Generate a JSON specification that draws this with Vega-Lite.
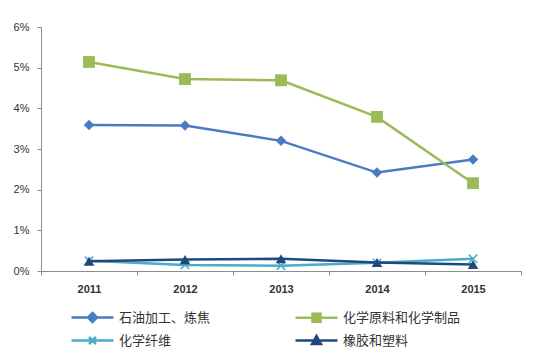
{
  "$schema": "https://vega.github.io/schema/vega-lite/v6.json",
  "width": 480,
  "height": 244,
  "autosize": {"type": "none"},
  "padding": {"left": 41, "top": 27, "right": 22, "bottom": 93},
  "background": "white",
  "config": {"view": {"stroke": null}, "font": "Noto Sans CJK SC"},
  "data": {"values": [
    {"year": "2011", "series": "石油加工、炼焦", "v": 0.0359},
    {"year": "2012", "series": "石油加工、炼焦", "v": 0.0358},
    {"year": "2013", "series": "石油加工、炼焦", "v": 0.0320},
    {"year": "2014", "series": "石油加工、炼焦", "v": 0.0242},
    {"year": "2015", "series": "石油加工、炼焦", "v": 0.0274},
    {"year": "2011", "series": "化学原料和化学制品", "v": 0.0514},
    {"year": "2012", "series": "化学原料和化学制品", "v": 0.0472},
    {"year": "2013", "series": "化学原料和化学制品", "v": 0.0469},
    {"year": "2014", "series": "化学原料和化学制品", "v": 0.0379},
    {"year": "2015", "series": "化学原料和化学制品", "v": 0.0216},
    {"year": "2011", "series": "化学纤维", "v": 0.0025},
    {"year": "2012", "series": "化学纤维", "v": 0.0015},
    {"year": "2013", "series": "化学纤维", "v": 0.0013},
    {"year": "2014", "series": "化学纤维", "v": 0.0020},
    {"year": "2015", "series": "化学纤维", "v": 0.0030},
    {"year": "2011", "series": "橡胶和塑料", "v": 0.0024},
    {"year": "2012", "series": "橡胶和塑料", "v": 0.0028},
    {"year": "2013", "series": "橡胶和塑料", "v": 0.0030},
    {"year": "2014", "series": "橡胶和塑料", "v": 0.0021},
    {"year": "2015", "series": "橡胶和塑料", "v": 0.0016}
  ]},
  "encoding": {
    "x": {
      "field": "year", "type": "ordinal",
      "scale": {"type": "band", "paddingInner": 0, "paddingOuter": 0},
      "axis": {"title": null, "labelAngle": 0, "tickBand": "extent", "domainColor": "#8c8c8c", "tickColor": "#8c8c8c", "tickSize": 4, "labelPadding": 8, "labelFontSize": 11, "labelFontWeight": "bold", "labelColor": "#333333", "labelFont": "Liberation Sans"}
    },
    "y": {
      "field": "v", "type": "quantitative",
      "scale": {"domain": [0, 0.06], "nice": false},
      "axis": {"title": null, "format": ".0%", "values": [0, 0.01, 0.02, 0.03, 0.04, 0.05, 0.06], "grid": false, "domainColor": "#8c8c8c", "tickColor": "#8c8c8c", "tickSize": 4, "labelPadding": 8, "labelFontSize": 11, "labelColor": "#333333", "labelFont": "Liberation Sans"}
    },
    "color": {
      "field": "series", "type": "nominal",
      "scale": {"domain": ["石油加工、炼焦", "化学原料和化学制品", "化学纤维", "橡胶和塑料"], "range": ["#4a7cc3", "#9bbb59", "#4bacc6", "#1f497d"]}
    }
  },
  "layer": [
    {
      "mark": {"type": "line", "strokeWidth": 2.5},
      "encoding": {
        "color": {
          "field": "series", "type": "nominal",
          "legend": {
            "title": null, "orient": "none", "legendX": 45, "legendY": 284, "direction": "horizontal", "columns": 2,
            "symbolSize": 100, "labelOffset": 20, "columnPadding": 79, "rowPadding": 4, "padding": 0,
            "labelFontSize": 13, "labelColor": "#333333", "labelFont": "Noto Sans CJK SC", "symbolStrokeWidth": 2.5,
            "encode": {"symbols": {"update": {
              "shape": {"signal": "datum.value === '石油加工、炼焦' ? 'M-4.2,0H4.2M0,-0.9L0.9,0L0,0.9L-0.9,0Z' : datum.value === '化学原料和化学制品' ? 'M-4.2,0H4.2M-0.8,-0.8H0.8V0.8H-0.8Z' : datum.value === '化学纤维' ? 'M-4.2,0H4.2M-0.7,-0.7L0.7,0.7M-0.7,0.7L0.7,-0.7' : 'M-4.2,0H4.2M0,-0.9L0.9,0.7H-0.9Z'"},
              "fill": {"scale": "color", "field": "value"},
              "stroke": {"scale": "color", "field": "value"}
            }}}
          }
        }
      }
    },
    {
      "transform": [{"filter": "datum.series === '石油加工、炼焦'"}],
      "mark": {"type": "point", "shape": "diamond", "filled": true, "opacity": 1, "size": 110},
      "encoding": {"color": {"field": "series", "type": "nominal", "legend": null}}
    },
    {
      "transform": [{"filter": "datum.series === '化学原料和化学制品'"}],
      "mark": {"type": "point", "shape": "square", "filled": true, "opacity": 1, "size": 140},
      "encoding": {"color": {"field": "series", "type": "nominal", "legend": null}}
    },
    {
      "transform": [{"filter": "datum.series === '化学纤维'"}],
      "mark": {"type": "point", "shape": "M-1,-1L1,1M-1,1L1,-1", "filled": false, "opacity": 1, "size": 70, "strokeWidth": 1.5},
      "encoding": {"color": {"field": "series", "type": "nominal", "legend": null}}
    },
    {
      "transform": [{"filter": "datum.series === '橡胶和塑料'"}],
      "mark": {"type": "point", "shape": "triangle-up", "filled": true, "opacity": 1, "size": 110},
      "encoding": {"color": {"field": "series", "type": "nominal", "legend": null}}
    }
  ]
}
